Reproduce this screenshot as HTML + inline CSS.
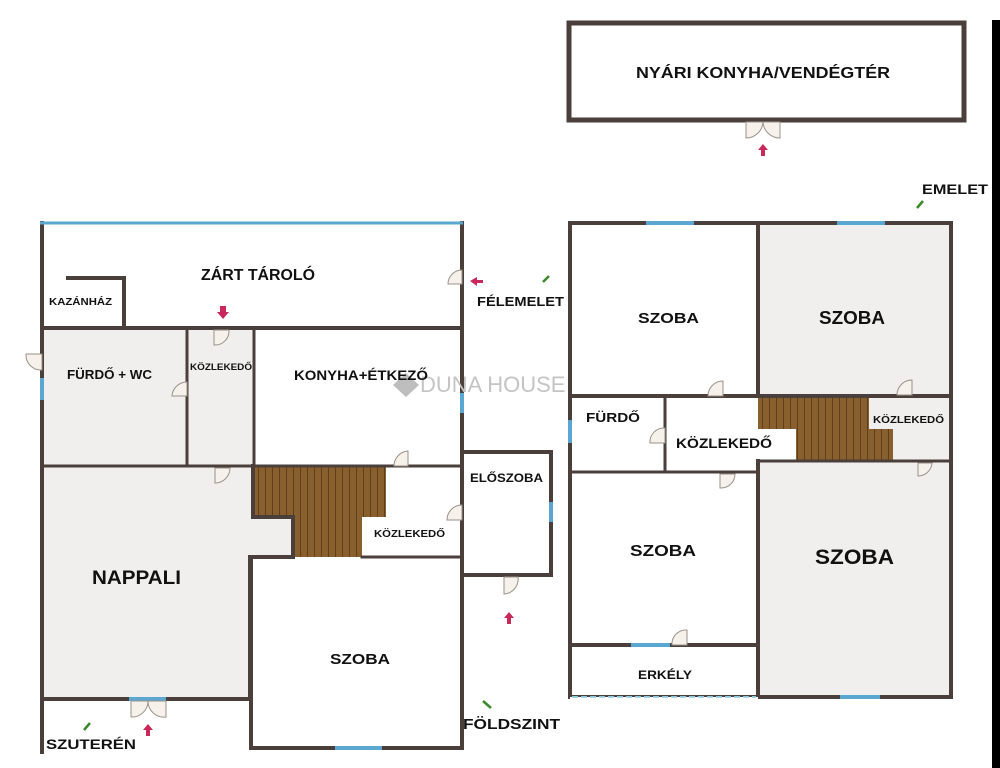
<!DOCTYPE html>
<html><head><meta charset="utf-8"><style>
html,body{margin:0;padding:0;background:#fff;width:1000px;height:768px;overflow:hidden}
svg{display:block}
text{font-family:"Liberation Sans",Arial,sans-serif;font-weight:bold;fill:#111}
</style></head><body>
<svg width="1000" height="768" viewBox="0 0 1000 768" xmlns="http://www.w3.org/2000/svg">
<rect x="992" y="20" width="8" height="748" fill="#000"/>
<!-- floors -->
<g fill="#f1efed">
<rect x="42" y="328" width="212" height="138"/>
<rect x="42" y="466" width="211" height="233"/>
<rect x="253" y="517" width="40" height="40"/>
<rect x="758" y="223" width="193" height="173"/>
<rect x="758" y="461" width="193" height="236"/>
<rect x="869" y="396" width="82" height="65"/>
</g>
<!-- stairs -->
<defs><pattern id="st" width="7" height="10" patternUnits="userSpaceOnUse"><rect width="7" height="10" fill="#8a5f2e"/><line x1="6.5" y1="0" x2="6.5" y2="10" stroke="#5e3f1c" stroke-width="1"/></pattern></defs>
<g fill="url(#st)">
<rect x="253" y="466" width="133" height="51"/>
<rect x="293" y="517" width="69" height="40"/>
<rect x="758" y="396" width="111" height="33"/>
<rect x="796" y="429" width="97" height="32"/>
</g>
<!-- walls -->
<g stroke="#4a3f3a" stroke-width="4" fill="none" stroke-linecap="square">
<path d="M42 223V752"/>
<path d="M462 223V748"/>
<path d="M68 278H124V328"/>
<path d="M42 328H462"/>
<path d="M187 328V465" stroke-width="3"/>
<path d="M254 328V466" stroke-width="3"/>
<path d="M42 466H462" stroke-width="3"/>
<path d="M253 466V517H293V557H251V748H462"/>
<path d="M362 557H462" stroke-width="3"/>
<path d="M42 699H250V557"/>
<path d="M463 452H551V575H463"/>
<path d="M570 223H951V697H570V223"/>
<path d="M758 223V396M758 461V697"/>
<path d="M570 396H951"/>
<path d="M665 396V472" stroke-width="3"/>
<path d="M570 472H758" stroke-width="3"/>
<path d="M758 461H951" stroke-width="3"/>
<path d="M570 645H758"/>
<rect x="569" y="23" width="395" height="97" stroke-width="5"/>
</g>
<!-- windows -->
<g stroke="#5aa7d2" stroke-width="4">
<path d="M40 223H463" stroke-width="3"/>
<path d="M42 378V400M462 393V413M551 502V522"/>
<path d="M129 699H166M335 748H382"/>
<path d="M646 223H694M837 223H885M570 420V443M631 645H670M840 697H880"/>
</g>
<path d="M572 697H756" stroke="#8cc7da" stroke-width="2" stroke-dasharray="6 3"/>
<rect x="570" y="697" width="188" height="2" fill="#fff"/>
<path d="M572 697H756" stroke="#8cc7da" stroke-width="1.5" stroke-dasharray="6 3"/>
<!-- doors -->
<g fill="#f6f1ea" stroke="#9a918a" stroke-width="1">
<path d="M462 270A14 14 0 0 0 448 284H462Z"/>
<path d="M214 330V345A14 14 0 0 0 229 330Z"/>
<path d="M42 354H26A15 15 0 0 0 42 370Z"/>
<path d="M187 382A15 15 0 0 0 172 396H187Z"/>
<path d="M408 451A15 15 0 0 0 394 466H408Z"/>
<path d="M215 468V483A15 15 0 0 0 230 468Z"/>
<path d="M462 505A15 15 0 0 0 447 520H462Z"/>
<path d="M504 577V594A15 15 0 0 0 518 577Z"/>
<path d="M131 701V717A16 16 0 0 0 148 701ZM166 701V717A16 16 0 0 1 148 701Z"/>
<path d="M746 122V138A17 17 0 0 0 763 122ZM780 122V138A17 17 0 0 1 763 122Z"/>
<path d="M723 381A15 15 0 0 0 708 396H723Z"/>
<path d="M912 380A15 15 0 0 0 897 395H912Z"/>
<path d="M665 428A14 14 0 0 0 650 443H665Z"/>
<path d="M720 474V488A14 14 0 0 0 735 474Z"/>
<path d="M918 463V476A14 14 0 0 0 932 463Z"/>
<path d="M687 630A14 14 0 0 0 672 645H687Z"/>
</g>
<!-- arrows -->
<g fill="#c8285a">
<path d="M220 306h6v6h3l-6 7-6-7h3z"/>
<path d="M470 281l7-4v3h6v3h-6v3z"/>
<path d="M509 612l5 6h-3v6h-4v-6h-3z"/>
<path d="M148 724l5 6h-3v6h-4v-6h-3z"/>
<path d="M763 144l5 6h-3v6h-4v-6h-3z"/>
</g>
<g stroke="#3a8a2a" stroke-width="2.5">
<path d="M543 282l6-6M84 730l6-7M483 701l8 7M917 208l6-7"/>
</g>
<!-- watermark -->
<g fill="#c8c8c8">
<path d="M393 385l13-12 13 12-13 12z" fill="#bdbdbd"/>
<text x="420" y="392" font-family="Liberation Serif,serif" font-weight="normal" font-size="22" fill="#c4c4c4" style="font-weight:normal;fill:#c4c4c4">DUNA HOUSE</text>
</g>
<!-- labels -->
<text x="201" y="280" font-size="16" textLength="114" lengthAdjust="spacingAndGlyphs">ZÁRT TÁROLÓ</text>
<text x="49" y="305" font-size="10.5" textLength="63" lengthAdjust="spacingAndGlyphs">KAZÁNHÁZ</text>
<text x="67" y="379" font-size="13" textLength="85" lengthAdjust="spacingAndGlyphs">FÜRDŐ + WC</text>
<text x="190" y="370" font-size="9.5" textLength="62" lengthAdjust="spacingAndGlyphs">KÖZLEKEDŐ</text>
<text x="294" y="380" font-size="14" textLength="134" lengthAdjust="spacingAndGlyphs">KONYHA+ÉTKEZŐ</text>
<text x="470" y="482" font-size="11.5" textLength="73" lengthAdjust="spacingAndGlyphs">ELŐSZOBA</text>
<text x="374" y="537" font-size="10.5" textLength="71" lengthAdjust="spacingAndGlyphs">KÖZLEKEDŐ</text>
<text x="92" y="584" font-size="19" textLength="89" lengthAdjust="spacingAndGlyphs">NAPPALI</text>
<text x="330" y="664" font-size="15" textLength="60" lengthAdjust="spacingAndGlyphs">SZOBA</text>
<text x="46" y="749" font-size="14" textLength="90" lengthAdjust="spacingAndGlyphs">SZUTERÉN</text>
<text x="463" y="729" font-size="15" textLength="97" lengthAdjust="spacingAndGlyphs">FÖLDSZINT</text>
<text x="477" y="306" font-size="13" textLength="87" lengthAdjust="spacingAndGlyphs">FÉLEMELET</text>
<text x="636" y="78" font-size="16" textLength="254" lengthAdjust="spacingAndGlyphs">NYÁRI KONYHA/VENDÉGTÉR</text>
<text x="922" y="194" font-size="14" textLength="66" lengthAdjust="spacingAndGlyphs">EMELET</text>
<text x="638" y="323" font-size="15" textLength="61" lengthAdjust="spacingAndGlyphs">SZOBA</text>
<text x="819" y="324" font-size="18" textLength="66" lengthAdjust="spacingAndGlyphs">SZOBA</text>
<text x="586" y="422" font-size="13" textLength="54" lengthAdjust="spacingAndGlyphs">FÜRDŐ</text>
<text x="676" y="448" font-size="14" textLength="96" lengthAdjust="spacingAndGlyphs">KÖZLEKEDŐ</text>
<text x="873" y="423" font-size="10.5" textLength="71" lengthAdjust="spacingAndGlyphs">KÖZLEKEDŐ</text>
<text x="630" y="556" font-size="16" textLength="66" lengthAdjust="spacingAndGlyphs">SZOBA</text>
<text x="815" y="564" font-size="21" textLength="79" lengthAdjust="spacingAndGlyphs">SZOBA</text>
<text x="638" y="679" font-size="12" textLength="54" lengthAdjust="spacingAndGlyphs">ERKÉLY</text>
</svg>
</body></html>
